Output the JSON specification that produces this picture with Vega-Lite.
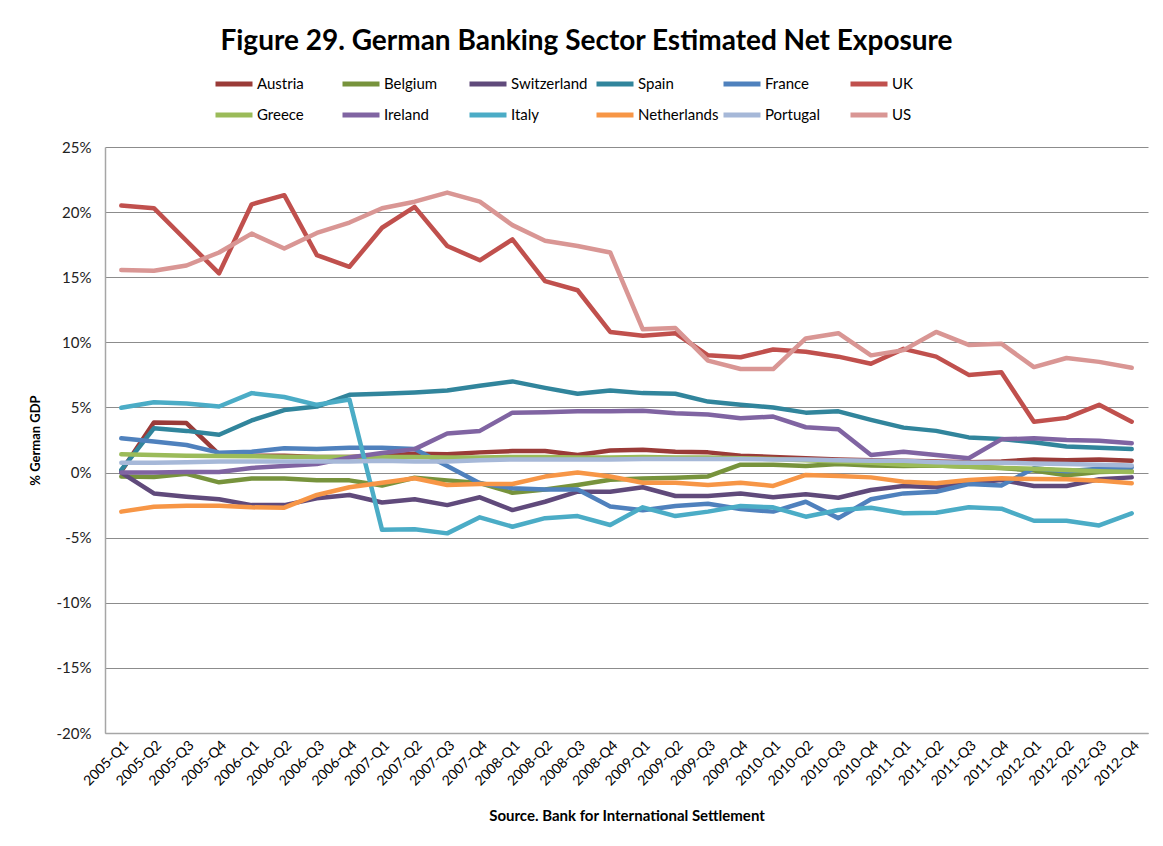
{
  "$schema": "https://vega.github.io/schema/vega-lite/v6.json",
  "width": 1043,
  "height": 586,
  "autosize": {"type": "none"},
  "padding": {"left": 105, "top": 147, "right": 15, "bottom": 113},
  "background": "white",
  "title": {
    "text": "Figure 29. German Banking Sector Estimated Net Exposure",
    "font": "Lato",
    "fontSize": 28,
    "fontWeight": "bold",
    "color": "#000000",
    "anchor": "middle",
    "frame": "group",
    "dx": -40,
    "offset": 7
  },
  "data": {
    "values": [
      {"q": "2005-Q1", "Austria": 0.1, "Belgium": -0.3, "Switzerland": 0.0, "Spain": 0.2, "France": 2.63, "UK": 20.5, "Greece": 1.4, "Ireland": 0.0, "Italy": 4.97, "Netherlands": -3.0, "Portugal": 0.75, "US": 15.55},
      {"q": "2005-Q2", "Austria": 3.85, "Belgium": -0.35, "Switzerland": -1.6, "Spain": 3.4, "France": 2.38, "UK": 20.3, "Greece": 1.35, "Ireland": 0.0, "Italy": 5.4, "Netherlands": -2.62, "Portugal": 0.75, "US": 15.5},
      {"q": "2005-Q3", "Austria": 3.8, "Belgium": -0.1, "Switzerland": -1.85, "Spain": 3.2, "France": 2.12, "UK": 17.8, "Greece": 1.3, "Ireland": 0.05, "Italy": 5.3, "Netherlands": -2.55, "Portugal": 0.8, "US": 15.9},
      {"q": "2005-Q4", "Austria": 1.4, "Belgium": -0.75, "Switzerland": -2.05, "Spain": 2.9, "France": 1.53, "UK": 15.3, "Greece": 1.28, "Ireland": 0.05, "Italy": 5.07, "Netherlands": -2.55, "Portugal": 0.85, "US": 16.9},
      {"q": "2006-Q1", "Austria": 1.3, "Belgium": -0.45, "Switzerland": -2.5, "Spain": 4.0, "France": 1.6, "UK": 20.6, "Greece": 1.25, "Ireland": 0.35, "Italy": 6.1, "Netherlands": -2.67, "Portugal": 0.85, "US": 18.35},
      {"q": "2006-Q2", "Austria": 1.3, "Belgium": -0.45, "Switzerland": -2.5, "Spain": 4.8, "France": 1.87, "UK": 21.3, "Greece": 1.22, "Ireland": 0.5, "Italy": 5.8, "Netherlands": -2.7, "Portugal": 0.85, "US": 17.2},
      {"q": "2006-Q3", "Austria": 1.2, "Belgium": -0.6, "Switzerland": -1.98, "Spain": 5.07, "France": 1.8, "UK": 16.7, "Greece": 1.2, "Ireland": 0.65, "Italy": 5.2, "Netherlands": -1.72, "Portugal": 0.85, "US": 18.4},
      {"q": "2006-Q4", "Austria": 1.2, "Belgium": -0.6, "Switzerland": -1.72, "Spain": 5.97, "France": 1.9, "UK": 15.8, "Greece": 1.2, "Ireland": 1.15, "Italy": 5.6, "Netherlands": -1.13, "Portugal": 0.85, "US": 19.2},
      {"q": "2007-Q1", "Austria": 1.3, "Belgium": -1.0, "Switzerland": -2.3, "Spain": 6.05, "France": 1.9, "UK": 18.8, "Greece": 1.2, "Ireland": 1.5, "Italy": -4.4, "Netherlands": -0.78, "Portugal": 0.9, "US": 20.3},
      {"q": "2007-Q2", "Austria": 1.45, "Belgium": -0.4, "Switzerland": -2.05, "Spain": 6.15, "France": 1.8, "UK": 20.4, "Greece": 1.2, "Ireland": 1.8, "Italy": -4.35, "Netherlands": -0.44, "Portugal": 0.85, "US": 20.8},
      {"q": "2007-Q3", "Austria": 1.4, "Belgium": -0.6, "Switzerland": -2.5, "Spain": 6.3, "France": 0.5, "UK": 17.4, "Greece": 1.15, "Ireland": 3.0, "Italy": -4.67, "Netherlands": -0.95, "Portugal": 0.85, "US": 21.5},
      {"q": "2007-Q4", "Austria": 1.55, "Belgium": -0.8, "Switzerland": -1.9, "Spain": 6.66, "France": -0.82, "UK": 16.3, "Greece": 1.15, "Ireland": 3.2, "Italy": -3.44, "Netherlands": -0.88, "Portugal": 0.95, "US": 20.8},
      {"q": "2008-Q1", "Austria": 1.65, "Belgium": -1.55, "Switzerland": -2.88, "Spain": 7.0, "France": -1.2, "UK": 17.9, "Greece": 1.2, "Ireland": 4.6, "Italy": -4.16, "Netherlands": -0.88, "Portugal": 1.0, "US": 19.0},
      {"q": "2008-Q2", "Austria": 1.65, "Belgium": -1.3, "Switzerland": -2.24, "Spain": 6.5, "France": -1.3, "UK": 14.7, "Greece": 1.2, "Ireland": 4.63, "Italy": -3.5, "Netherlands": -0.31, "Portugal": 1.0, "US": 17.8},
      {"q": "2008-Q3", "Austria": 1.35, "Belgium": -0.95, "Switzerland": -1.47, "Spain": 6.05, "France": -1.3, "UK": 14.0, "Greece": 1.15, "Ireland": 4.7, "Italy": -3.34, "Netherlands": 0.0, "Portugal": 1.0, "US": 17.4},
      {"q": "2008-Q4", "Austria": 1.7, "Belgium": -0.55, "Switzerland": -1.47, "Spain": 6.3, "France": -2.6, "UK": 10.8, "Greece": 1.15, "Ireland": 4.7, "Italy": -4.03, "Netherlands": -0.3, "Portugal": 1.0, "US": 16.9},
      {"q": "2009-Q1", "Austria": 1.75, "Belgium": -0.45, "Switzerland": -1.13, "Spain": 6.1, "France": -2.9, "UK": 10.5, "Greece": 1.2, "Ireland": 4.75, "Italy": -2.67, "Netherlands": -0.78, "Portugal": 1.05, "US": 11.0},
      {"q": "2009-Q2", "Austria": 1.6, "Belgium": -0.4, "Switzerland": -1.8, "Spain": 6.05, "France": -2.57, "UK": 10.7, "Greece": 1.15, "Ireland": 4.55, "Italy": -3.34, "Netherlands": -0.78, "Portugal": 1.05, "US": 11.1},
      {"q": "2009-Q3", "Austria": 1.55, "Belgium": -0.3, "Switzerland": -1.8, "Spain": 5.45, "France": -2.4, "UK": 9.0, "Greece": 1.15, "Ireland": 4.45, "Italy": -3.0, "Netherlands": -0.95, "Portugal": 1.05, "US": 8.6},
      {"q": "2009-Q4", "Austria": 1.3, "Belgium": 0.6, "Switzerland": -1.6, "Spain": 5.2, "France": -2.8, "UK": 8.85, "Greece": 1.1, "Ireland": 4.17, "Italy": -2.57, "Netherlands": -0.78, "Portugal": 1.05, "US": 7.95},
      {"q": "2010-Q1", "Austria": 1.2, "Belgium": 0.6, "Switzerland": -1.9, "Spain": 5.0, "France": -3.0, "UK": 9.45, "Greece": 1.05, "Ireland": 4.3, "Italy": -2.67, "Netherlands": -1.03, "Portugal": 1.0, "US": 7.95},
      {"q": "2010-Q2", "Austria": 1.1, "Belgium": 0.5, "Switzerland": -1.67, "Spain": 4.6, "France": -2.24, "UK": 9.27, "Greece": 0.95, "Ireland": 3.48, "Italy": -3.39, "Netherlands": -0.18, "Portugal": 1.0, "US": 10.3},
      {"q": "2010-Q3", "Austria": 1.0, "Belgium": 0.65, "Switzerland": -1.93, "Spain": 4.7, "France": -3.5, "UK": 8.9, "Greece": 0.85, "Ireland": 3.33, "Italy": -2.88, "Netherlands": -0.26, "Portugal": 0.95, "US": 10.7},
      {"q": "2010-Q4", "Austria": 0.95, "Belgium": 0.55, "Switzerland": -1.34, "Spain": 4.05, "France": -2.05, "UK": 8.35, "Greece": 0.75, "Ireland": 1.35, "Italy": -2.7, "Netherlands": -0.37, "Portugal": 0.9, "US": 9.0},
      {"q": "2011-Q1", "Austria": 0.9, "Belgium": 0.5, "Switzerland": -1.03, "Spain": 3.45, "France": -1.6, "UK": 9.5, "Greece": 0.6, "Ireland": 1.6, "Italy": -3.13, "Netherlands": -0.7, "Portugal": 0.9, "US": 9.4},
      {"q": "2011-Q2", "Austria": 0.85, "Belgium": 0.55, "Switzerland": -1.13, "Spain": 3.2, "France": -1.47, "UK": 8.9, "Greece": 0.55, "Ireland": 1.35, "Italy": -3.08, "Netherlands": -0.82, "Portugal": 0.8, "US": 10.8},
      {"q": "2011-Q3", "Austria": 0.8, "Belgium": 0.45, "Switzerland": -0.82, "Spain": 2.7, "France": -0.88, "UK": 7.5, "Greece": 0.45, "Ireland": 1.1, "Italy": -2.67, "Netherlands": -0.57, "Portugal": 0.75, "US": 9.8},
      {"q": "2011-Q4", "Austria": 0.85, "Belgium": 0.35, "Switzerland": -0.57, "Spain": 2.58, "France": -1.0, "UK": 7.7, "Greece": 0.35, "Ireland": 2.55, "Italy": -2.77, "Netherlands": -0.44, "Portugal": 0.75, "US": 9.9},
      {"q": "2012-Q1", "Austria": 1.0, "Belgium": 0.15, "Switzerland": -1.03, "Spain": 2.33, "France": 0.33, "UK": 3.9, "Greece": 0.3, "Ireland": 2.63, "Italy": -3.7, "Netherlands": -0.5, "Portugal": 0.7, "US": 8.1},
      {"q": "2012-Q2", "Austria": 0.95, "Belgium": -0.2, "Switzerland": -1.03, "Spain": 2.0, "France": 0.1, "UK": 4.2, "Greece": 0.2, "Ireland": 2.5, "Italy": -3.7, "Netherlands": -0.52, "Portugal": 0.65, "US": 8.8},
      {"q": "2012-Q3", "Austria": 1.0, "Belgium": 0.05, "Switzerland": -0.52, "Spain": 1.9, "France": 0.3, "UK": 5.2, "Greece": 0.1, "Ireland": 2.45, "Italy": -4.06, "Netherlands": -0.62, "Portugal": 0.6, "US": 8.5},
      {"q": "2012-Q4", "Austria": 0.9, "Belgium": 0.1, "Switzerland": -0.37, "Spain": 1.8, "France": 0.4, "UK": 3.9, "Greece": 0.05, "Ireland": 2.25, "Italy": -3.13, "Netherlands": -0.82, "Portugal": 0.55, "US": 8.05}
    ]
  },
  "transform": [
    {"fold": ["Austria", "Belgium", "Switzerland", "Spain", "France", "UK", "Greece", "Ireland", "Italy", "Netherlands", "Portugal", "US"], "as": ["country", "value"]}
  ],
  "mark": {"type": "line", "strokeWidth": 4.5, "strokeJoin": "round", "strokeCap": "round"},
  "encoding": {
    "x": {
      "field": "q",
      "type": "ordinal",
      "sort": null,
      "scale": {"type": "point", "padding": 0.5},
      "axis": {
        "title": "Source. Bank for International Settlement",
        "titleFont": "Lato",
        "titleFontSize": 15,
        "titleFontWeight": "bold",
        "titleColor": "#000000",
        "titlePadding": 20,
        "labelAngle": -45,
        "labelFont": "Lato",
        "labelFontSize": 14,
        "labelColor": "#000000",
        "labelPadding": 5,
        "ticks": false,
        "grid": false,
        "domainColor": "#A6A6A6",
        "domainWidth": 1.5
      }
    },
    "y": {
      "field": "value",
      "type": "quantitative",
      "scale": {"domain": [-20, 25], "nice": false, "zero": false},
      "axis": {
        "title": "% German GDP",
        "titleFont": "Lato",
        "titleFontSize": 13,
        "titleFontWeight": "bold",
        "titleColor": "#000000",
        "titlePadding": 14,
        "values": [-20, -15, -10, -5, 0, 5, 10, 15, 20, 25],
        "labelExpr": "datum.value + '%'",
        "labelFont": "Lato",
        "labelFontSize": 15,
        "labelColor": "#222222",
        "labelPadding": 14,
        "ticks": false,
        "grid": true,
        "gridColor": "#8C8C8C",
        "gridWidth": 1,
        "domainColor": "#A6A6A6",
        "domainWidth": 1.5
      }
    },
    "color": {
      "field": "country",
      "type": "nominal",
      "scale": {
        "domain": ["Austria", "Belgium", "Switzerland", "Spain", "France", "UK", "Greece", "Ireland", "Italy", "Netherlands", "Portugal", "US"],
        "range": ["#9A3B38", "#77933C", "#604A7B", "#31859C", "#4F81BD", "#C0504D", "#9BBB59", "#8064A2", "#4BACC6", "#F79646", "#A6B8D8", "#D99694"]
      },
      "legend": {
        "title": null,
        "orient": "none",
        "legendX": 108,
        "legendY": -84,
        "direction": "horizontal",
        "columns": 6,
        "gridAlign": "all",
        "symbolType": "stroke",
        "symbolSize": 1369,
        "symbolStrokeWidth": 5,
        "labelFont": "Lato",
        "labelFontSize": 15,
        "labelColor": "#000000",
        "labelOffset": 2,
        "columnPadding": -6,
        "rowPadding": 0
      }
    },
    "order": {"field": "q"}
  },
  "config": {
    "view": {"stroke": null}
  }
}
